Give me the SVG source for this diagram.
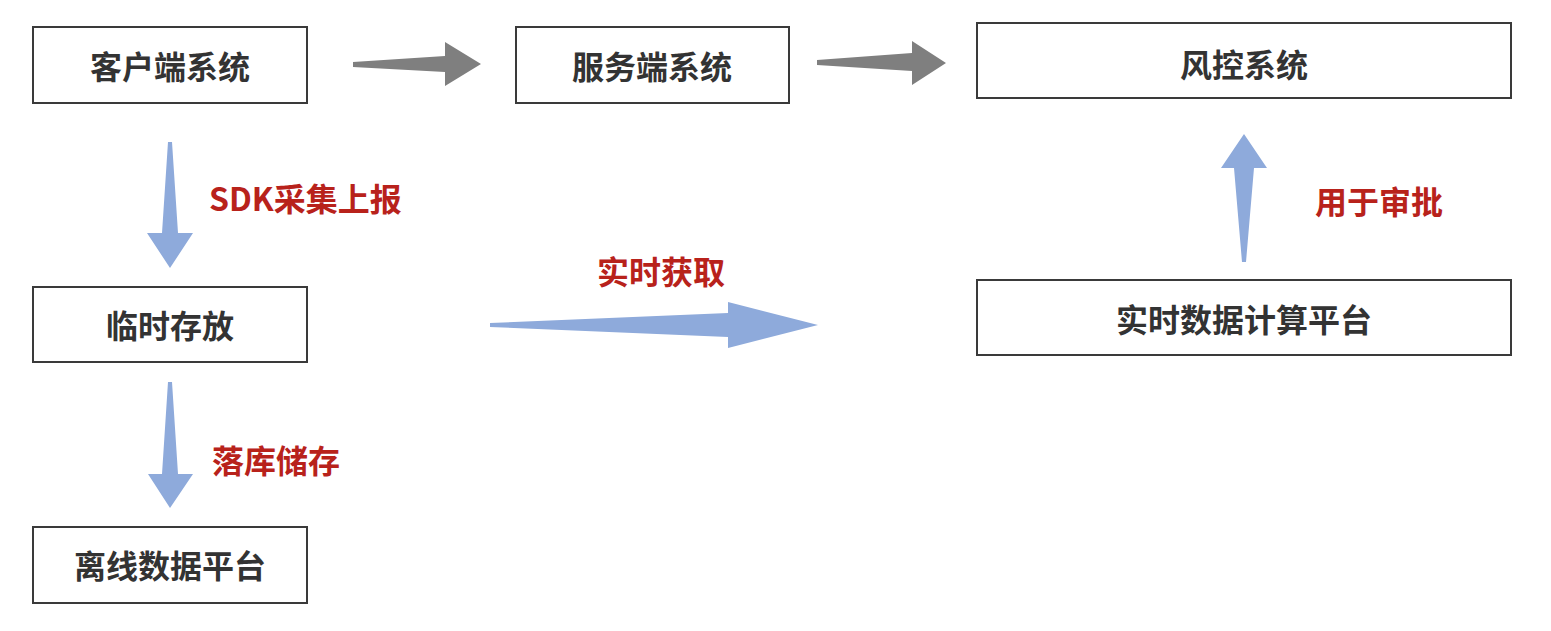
<svg xmlns="http://www.w3.org/2000/svg" width="1551" height="631" viewBox="0 0 1551 631">
<style>
.box{fill:#fff;stroke:#3a3a3a;stroke-width:2}
.t{font-family:"Noto Sans CJK SC","Noto Sans",sans-serif;font-weight:bold;font-size:32px;fill:#333;text-anchor:middle;dominant-baseline:central}
.lbl{font-family:"Noto Sans CJK SC","Noto Sans",sans-serif;font-weight:bold;font-size:32px;fill:#b8221b;dominant-baseline:central}
.gray{fill:#7f7f7f}
.blue{fill:#8eaadb}
</style>
<rect width="1551" height="631" fill="#fff"/>
<g id="client"><rect class="box" x="33" y="27" width="274" height="76"/><text class="t" x="170" y="65">客户端系统</text></g>
<g id="server"><rect class="box" x="516" y="27" width="273" height="76"/><text class="t" x="652" y="65">服务端系统</text></g>
<g id="risk"><rect class="box" x="977" y="23" width="534" height="75"/><text class="t" x="1244" y="63">风控系统</text></g>
<g id="temp"><rect class="box" x="33" y="287" width="274" height="75"/><text class="t" x="170" y="324">临时存放</text></g>
<g id="offline"><rect class="box" x="33" y="527" width="274" height="76"/><text class="t" x="170" y="564">离线数据平台</text></g>
<g id="realtime"><rect class="box" x="977" y="280" width="534" height="75"/><text class="t" x="1244" y="318">实时数据计算平台</text></g>
<g id="connectors">
<polygon class="gray" points="353,62 445,56 445,42 481,64 445,86 445,72 353,67"/>
<polygon class="gray" points="817,60 912,53 912,41 946,63 912,85 912,71 817,65"/>
<polygon class="blue" points="168,142 172,142 178,233 193,233 170,268 147,233 162,233"/>
<polygon class="blue" points="168,382 172,382 178,474 193,474 170,508 148,474 162,474"/>
<polygon class="blue" points="490,323 728,313 728,302 818,325 728,348 728,337 490,327"/>
<polygon class="blue" points="1242,262 1246,262 1254,168 1267,168 1244,134 1221,168 1234,168"/>
<text class="lbl" x="209" y="197">SDK采集上报</text>
<text class="lbl" x="212" y="459">落库储存</text>
<text class="lbl" x="597" y="270">实时获取</text>
<text class="lbl" x="1315" y="200">用于审批</text>
</g>
</svg>
